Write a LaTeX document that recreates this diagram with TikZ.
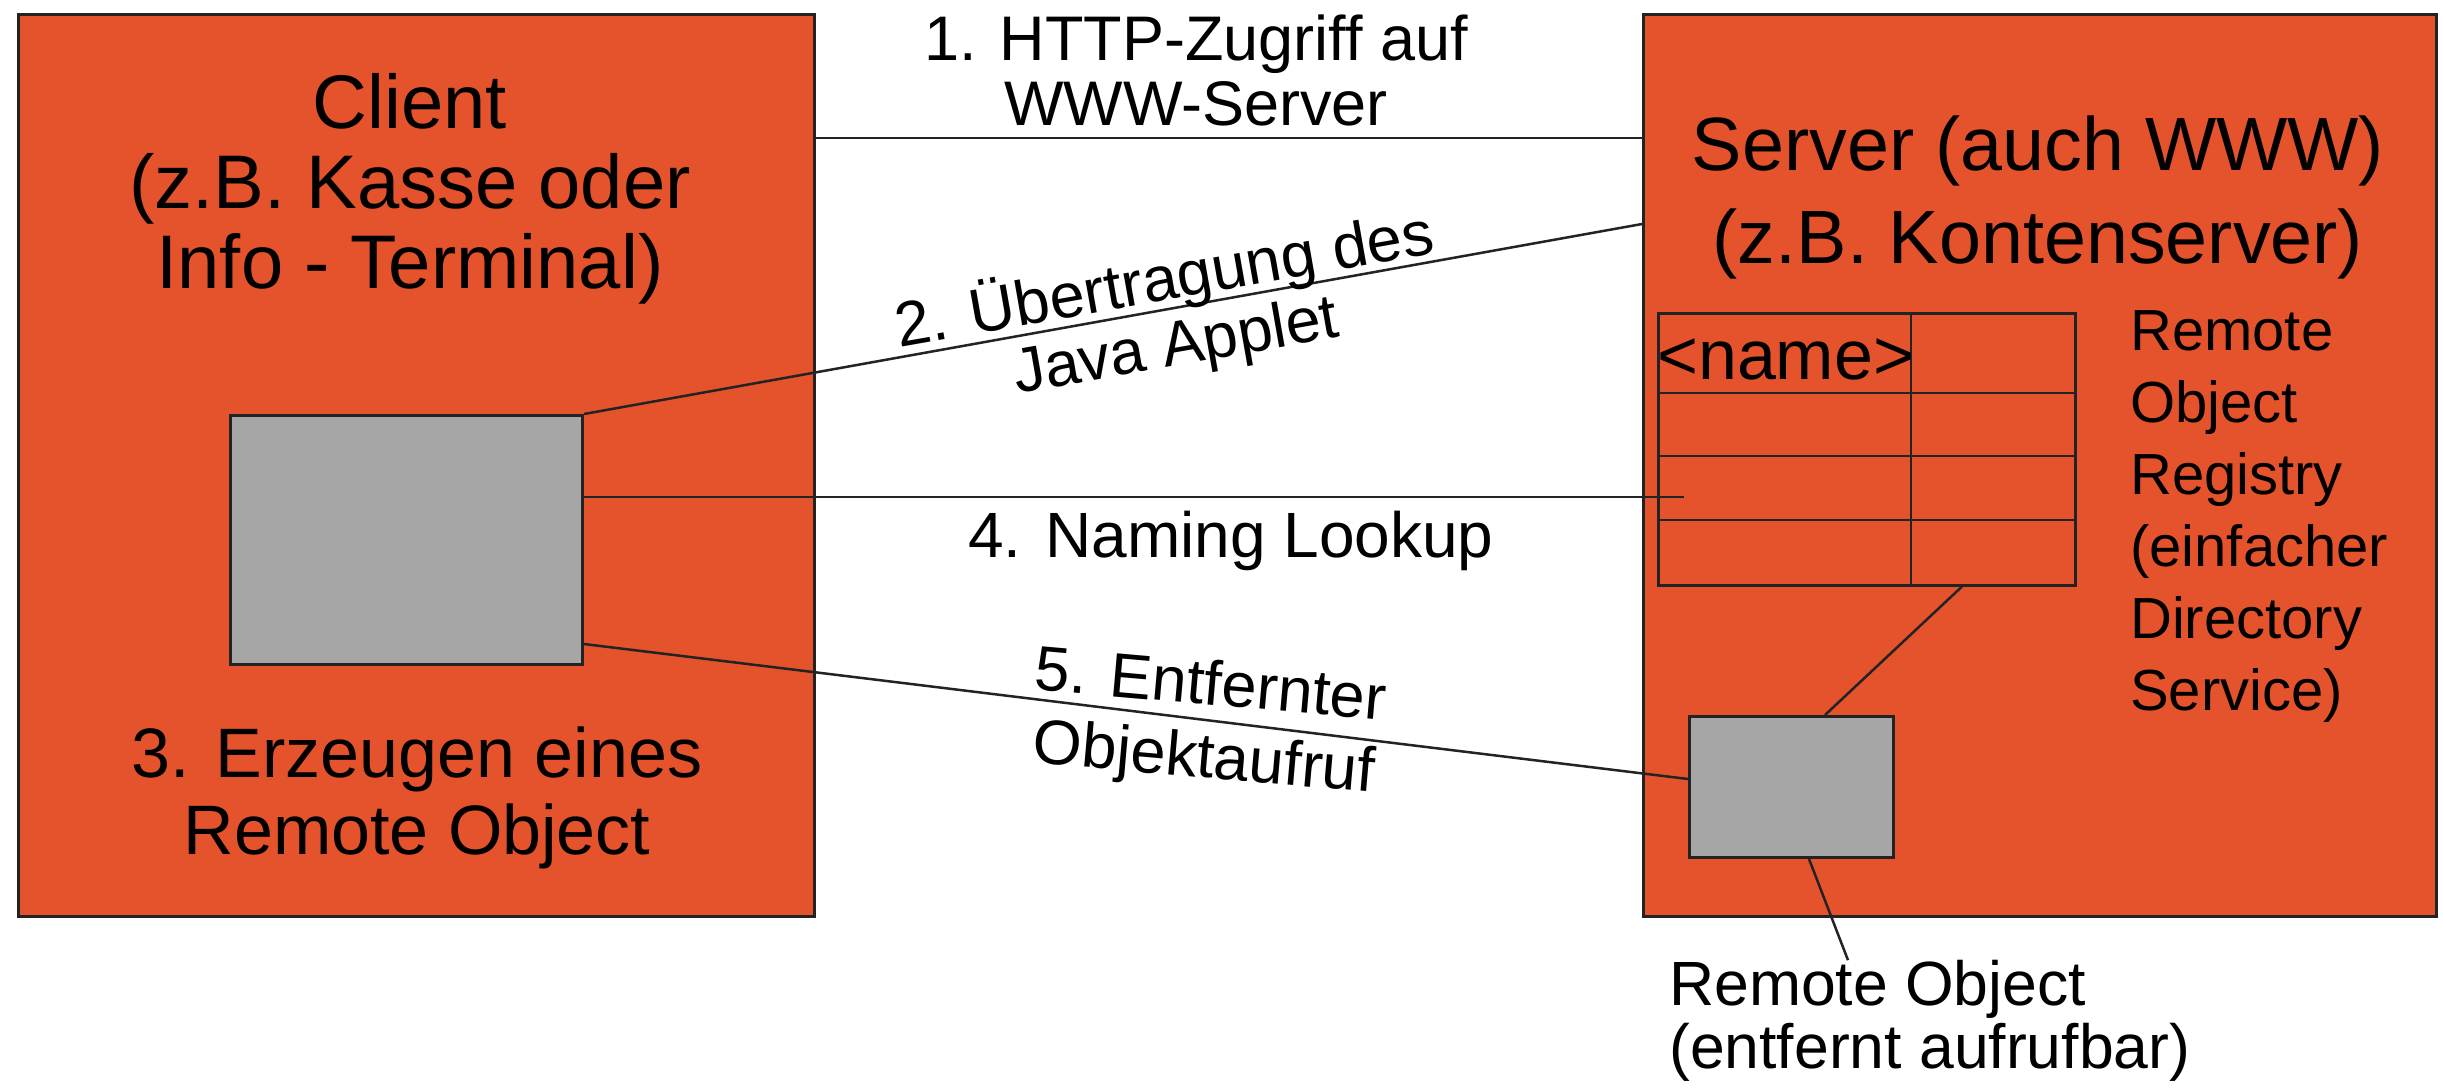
\documentclass[tikz,border=0pt]{standalone}
\usepackage{fontspec}
\setmainfont{Liberation Sans}
\definecolor{hostfill}{RGB}{229,83,45}
\definecolor{objfill}{RGB}{166,166,166}
\definecolor{lineclr}{RGB}{35,35,35}
\newcommand{\fsz}[2]{\fontsize{#1}{#2}\selectfont}
\begin{document}
\begin{tikzpicture}[x=1pt,y=-1pt,
  host/.style={draw=lineclr, line width=3pt, fill=hostfill, inner sep=0pt, anchor=north west},
  objbox/.style={draw=lineclr, line width=3pt, fill=objfill, inner sep=0pt, anchor=north west},
  gridline/.style={draw=lineclr, line width=2.5pt},
  conn/.style={draw=lineclr, line width=2.5pt},
  lbl/.style={inner sep=0pt, text=black, align=center},
]
% canvas
\fill[white] (0,0) rectangle (2443,1087);

% client and server hosts
\node[host, minimum width=796pt, minimum height=902pt] (client) at (17,13) {};
\node[host, minimum width=793pt, minimum height=902pt] (server) at (1642,13) {};

% applet object on the client, remote object on the server
\node[objbox, minimum width=352pt, minimum height=249pt] (cobj) at (229,414) {};
\node[objbox, minimum width=204pt, minimum height=141pt] (sobj) at (1688,715) {};

% registry table
\node[draw=lineclr, line width=2.5pt, inner sep=0pt, anchor=north west,
      minimum width=417pt, minimum height=272pt] (reg) at (1657,312) {};
\coordinate (colx) at (1911,0);
\coordinate (r1) at (0,393);
\coordinate (r2) at (0,456);
\coordinate (r3) at (0,520);
\draw[gridline] (reg.north -| colx) -- (reg.south -| colx);
\foreach \r in {r1,r2,r3}
  \draw[gridline] (reg.west |- \r) -- (reg.east |- \r);
\node[lbl, font=\fsz{70}{80}, anchor=base west] (nm) at (1657,379) {<name>};

% texts inside the hosts
\node[lbl, font=\fsz{76}{80}] (ctitle) at (410,189) {Client\\(z.B. Kasse oder\\Info - Terminal)};
\node[lbl, font=\fsz{70}{77}] (cstep) at (417,798) {3. Erzeugen eines\\Remote Object};
\node[lbl, font=\fsz{75.5}{93}] (stitle) at (2038,197) {Server (auch WWW)\\(z.B. Kontenserver)};
\node[lbl, font=\fsz{58}{72}, align=left, anchor=west] (regtxt) at (2130,517)
  {Remote\\Object\\Registry\\(einfacher\\Directory\\Service)};
\node[lbl, font=\fsz{62.5}{63}, align=left, anchor=west] (rolbl) at (1669,1021)
  {Remote Object\\(entfernt aufrufbar)};

% connectors
\coordinate (h1) at (1228,138);
\draw[conn] (client.east |- h1) -- (server.west |- h1);
\coordinate (h2) at (1642,224);
\draw[conn] (cobj.north east) -- (server.west |- h2);
\coordinate (lk) at (1684,497);
\draw[conn] (cobj.east |- lk) -- (lk);
\coordinate (h5a) at (0,644);
\coordinate (h5b) at (0,779);
\draw[conn] (cobj.east |- h5a) -- (sobj.west |- h5b);
\coordinate (ra) at (1962,0);
\coordinate (sa) at (1825,0);
\draw[conn] (reg.south -| ra) -- (sobj.north -| sa);
\coordinate (sb) at (1809,0);
\coordinate (rb) at (1848,0);
\draw[conn] (sobj.south -| sb) -- (rolbl.north -| rb);

% connector labels
\node[lbl, font=\fsz{63}{65}] (l1) at (1196,70) {1. HTTP-Zugriff auf\\WWW-Server};
\node[lbl, font=\fsz{63}{66}, rotate=10] (l2) at (1170,313) {2. Übertragung des\\Java Applet};
\node[lbl, font=\fsz{64}{64}, anchor=base] (l4) at (1231,557) {4. Naming Lookup};
\node[lbl, font=\fsz{63}{73}, rotate=-5] (l5) at (1207,725) {5. Entfernter\\Objektaufruf};
\end{tikzpicture}
\end{document}
